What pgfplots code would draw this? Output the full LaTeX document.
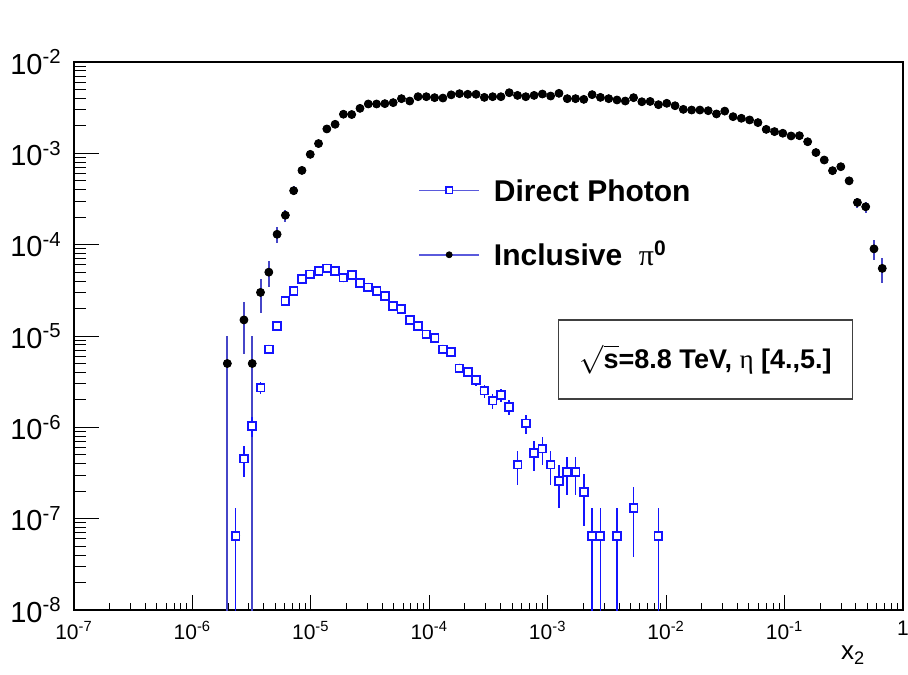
\documentclass[border=0pt]{standalone}
\usepackage{fontspec}
\setmainfont{Liberation Sans}
\newfontfamily\greekfont{Liberation Serif}
\usepackage{pgfplots}
\pgfplotsset{compat=1.18}
\usepackage{pgfplotstable}

\definecolor{errblue}{RGB}{70,70,200}
\definecolor{legblue}{RGB}{90,90,220}
\definecolor{photon}{RGB}{20,20,255}

% Inclusive pi0
\pgfplotstableread{
x y ep em
1.972e-6 5e-6 5e-6 4.999e-6
2.723e-6 1.5e-5 8.66e-6 8.66e-6
3.199e-6 5e-6 5e-6 4.999e-6
3.758e-6 3e-5 1.22e-5 1.22e-5
4.416e-6 5e-5 1.58e-5 1.58e-5
5.188e-6 1.3e-4 2.55e-5 2.55e-5
6.095e-6 2.1e-4 3.24e-5 3.24e-5
7.161e-6 3.9e-4 4.42e-5 4.42e-5
8.414e-6 6.5e-4 5.7e-5 5.7e-5
9.886e-6 9.75e-4 6.98e-5 6.98e-5
1.161e-5 1.28e-3 8e-5 8e-5
1.365e-5 1.85e-3 9.6e-5 9.6e-5
1.603e-5 2.08e-3 1.02e-4 1.02e-4
1.884e-5 2.68e-3 1.16e-4 1.16e-4
2.213e-5 2.66e-3 1.15e-4 1.15e-4
2.600e-5 3.11e-3 1.25e-4 1.25e-4
3.055e-5 3.47e-3 1.32e-4 1.32e-4
3.589e-5 3.47e-3 1.32e-4 1.32e-4
4.217e-5 3.5e-3 1.32e-4 1.32e-4
4.955e-5 3.59e-3 1.34e-4 1.34e-4
5.821e-5 3.97e-3 1.41e-4 1.41e-4
6.839e-5 3.74e-3 1.37e-4 1.37e-4
8.035e-5 4.17e-3 1.44e-4 1.44e-4
9.441e-5 4.17e-3 1.44e-4 1.44e-4
1.109e-4 4.07e-3 1.43e-4 1.43e-4
1.303e-4 4.03e-3 1.42e-4 1.42e-4
1.531e-4 4.37e-3 1.48e-4 1.48e-4
1.799e-4 4.5e-3 1.5e-4 1.5e-4
2.113e-4 4.43e-3 1.49e-4 1.49e-4
2.483e-4 4.43e-3 1.49e-4 1.49e-4
2.917e-4 4.1e-3 1.43e-4 1.43e-4
3.428e-4 4.17e-3 1.44e-4 1.44e-4
4.027e-4 4.17e-3 1.44e-4 1.44e-4
4.732e-4 4.61e-3 1.52e-4 1.52e-4
5.559e-4 4.31e-3 1.47e-4 1.47e-4
6.531e-4 4.17e-3 1.44e-4 1.44e-4
7.674e-4 4.31e-3 1.47e-4 1.47e-4
9.016e-4 4.46e-3 1.49e-4 1.49e-4
1.059e-3 4.24e-3 1.46e-4 1.46e-4
1.245e-3 4.54e-3 1.51e-4 1.51e-4
1.462e-3 3.97e-3 1.41e-4 1.41e-4
1.718e-3 3.97e-3 1.41e-4 1.41e-4
2.018e-3 3.9e-3 1.4e-4 1.4e-4
2.371e-3 4.39e-3 1.48e-4 1.48e-4
2.786e-3 4.1e-3 1.43e-4 1.43e-4
3.273e-3 3.97e-3 1.41e-4 1.41e-4
3.846e-3 3.84e-3 1.39e-4 1.39e-4
4.519e-3 3.74e-3 1.37e-4 1.37e-4
5.309e-3 4.07e-3 1.43e-4 1.43e-4
6.237e-3 3.67e-3 1.35e-4 1.35e-4
7.328e-3 3.7e-3 1.36e-4 1.36e-4
8.610e-3 3.41e-3 1.31e-4 1.31e-4
1.012e-2 3.53e-3 1.33e-4 1.33e-4
1.189e-2 3.32e-3 1.29e-4 1.29e-4
1.396e-2 3.03e-3 1.23e-4 1.23e-4
1.641e-2 2.98e-3 1.22e-4 1.22e-4
1.928e-2 2.98e-3 1.22e-4 1.22e-4
2.265e-2 2.93e-3 1.21e-4 1.21e-4
2.661e-2 2.7e-3 1.16e-4 1.16e-4
3.126e-2 2.9e-3 1.2e-4 1.2e-4
3.673e-2 2.52e-3 1.12e-4 1.12e-4
4.315e-2 2.42e-3 1.1e-4 1.1e-4
5.070e-2 2.32e-3 1.08e-4 1.08e-4
5.957e-2 2.17e-3 1.04e-4 1.04e-4
6.998e-2 1.83e-3 9.57e-5 9.57e-5
8.222e-2 1.73e-3 9.3e-5 9.3e-5
9.661e-2 1.66e-3 9.11e-5 9.11e-5
0.1135 1.55e-3 8.8e-5 8.8e-5
0.1334 1.56e-3 8.83e-5 8.83e-5
0.1567 1.34e-3 8.19e-5 8.19e-5
0.1841 1.02e-3 7.14e-5 7.14e-5
0.2163 8.45e-4 6.5e-5 6.5e-5
0.2541 6.46e-4 5.68e-5 5.68e-5
0.2985 7.14e-4 5.98e-5 5.98e-5
0.3508 5e-4 5e-5 5e-5
0.4121 2.9e-4 3.81e-5 3.81e-5
0.4842 2.6e-4 3.61e-5 3.61e-5
0.5689 9e-5 2.12e-5 2.12e-5
0.6683 5.5e-5 1.66e-5 1.66e-5
}\piontable

% Direct photon
\pgfplotstableread{
x y ep em
2.317e-6 6.5e-8 6.5e-8 6.49e-8
2.723e-6 4.55e-7 1.72e-7 1.72e-7
3.199e-6 1.04e-6 2.6e-7 2.6e-7
3.758e-6 2.73e-6 4.21e-7 4.21e-7
4.416e-6 7.15e-6 6.82e-7 6.82e-7
5.188e-6 1.29e-5 9.16e-7 9.16e-7
6.095e-6 2.41e-5 1.25e-6 1.25e-6
7.161e-6 3.13e-5 1.43e-6 1.43e-6
8.414e-6 4.21e-5 1.65e-6 1.65e-6
9.886e-6 4.73e-5 1.75e-6 1.75e-6
1.161e-5 5.15e-5 1.83e-6 1.83e-6
1.365e-5 5.5e-5 1.89e-6 1.89e-6
1.603e-5 5.15e-5 1.83e-6 1.83e-6
1.884e-5 4.35e-5 1.68e-6 1.68e-6
2.213e-5 4.66e-5 1.74e-6 1.74e-6
2.600e-5 3.78e-5 1.57e-6 1.57e-6
3.055e-5 3.41e-5 1.49e-6 1.49e-6
3.589e-5 3.13e-5 1.43e-6 1.43e-6
4.217e-5 2.74e-5 1.33e-6 1.33e-6
4.955e-5 2.13e-5 1.18e-6 1.18e-6
5.821e-5 1.98e-5 1.13e-6 1.13e-6
6.839e-5 1.5e-5 9.87e-7 9.87e-7
8.035e-5 1.29e-5 9.16e-7 9.16e-7
9.441e-5 1.04e-5 8.22e-7 8.22e-7
1.109e-4 9.44e-6 7.83e-7 7.83e-7
1.303e-4 7.15e-6 6.82e-7 6.82e-7
1.531e-4 6.68e-6 6.59e-7 6.59e-7
1.799e-4 4.43e-6 5.37e-7 5.37e-7
2.113e-4 4.06e-6 5.14e-7 5.14e-7
2.483e-4 3.3e-6 4.63e-7 4.63e-7
2.917e-4 2.52e-6 4.05e-7 4.05e-7
3.428e-4 1.96e-6 3.57e-7 3.57e-7
4.027e-4 2.26e-6 3.83e-7 3.83e-7
4.732e-4 1.68e-6 3.3e-7 3.3e-7
5.559e-4 3.9e-7 1.59e-7 1.59e-7
6.531e-4 1.105e-6 2.68e-7 2.68e-7
7.674e-4 5.2e-7 1.84e-7 1.84e-7
9.016e-4 5.85e-7 1.95e-7 1.95e-7
1.059e-3 3.9e-7 1.59e-7 1.59e-7
1.245e-3 2.6e-7 1.3e-7 1.3e-7
1.462e-3 3.25e-7 1.45e-7 1.45e-7
1.718e-3 3.25e-7 1.45e-7 1.45e-7
2.018e-3 1.95e-7 1.126e-7 1.126e-7
2.371e-3 6.5e-8 6.5e-8 6.49e-8
2.786e-3 6.5e-8 6.5e-8 6.49e-8
3.846e-3 6.5e-8 6.5e-8 6.49e-8
5.309e-3 1.3e-7 9.19e-8 9.19e-8
8.610e-3 6.5e-8 6.5e-8 6.49e-8
}\photontable

\begin{document}
\begin{tikzpicture}
\path[use as bounding box] (-37pt,-32pt) rectangle (417pt,305pt);
\begin{axis}[
  scale only axis, width=414.5pt, height=274pt,
  at={(0pt,0pt)}, anchor=south west,
  xmode=log, ymode=log,
  xmin=1e-7, xmax=1, ymin=1e-8, ymax=1e-2,
  axis line style={line width=0.6pt, black},
  tick align=inside, tick pos=left,
  xtick={1e-7,1e-6,1e-5,1e-4,1e-3,1e-2,1e-1,1},
  xticklabels={10\textsuperscript{-7},10\textsuperscript{-6},10\textsuperscript{-5},10\textsuperscript{-4},10\textsuperscript{-3},10\textsuperscript{-2},10\textsuperscript{-1},1},
  ytick={1e-8,1e-7,1e-6,1e-5,1e-4,1e-3,1e-2},
  yticklabels={10\textsuperscript{-8},10\textsuperscript{-7},10\textsuperscript{-6},10\textsuperscript{-5},10\textsuperscript{-4},10\textsuperscript{-3},10\textsuperscript{-2}},
  xtick style={line width=0.5pt, black, /pgfplots/major tick length=7.5pt, /pgfplots/minor tick length=3.75pt},
  ytick style={line width=0.5pt, black, /pgfplots/major tick length=12.5pt, /pgfplots/minor tick length=6.25pt},
  xticklabel style={font=\fontsize{10.5}{10.5}\selectfont, inner sep=0pt, yshift=-5.5pt},
  yticklabel style={font=\fontsize{14.5}{14.5}\selectfont, inner sep=0pt, xshift=-6pt},
  xlabel={x\textsubscript{2}},
  xlabel style={font=\fontsize{13}{13}\selectfont, at={(axis description cs:0.94,0)}, anchor=center, yshift=-22.5pt},
  legend style={draw=none, fill=none, at={(rel axis cs:0.415,0.786)}, anchor=north west,
    inner sep=0pt, row sep=21.5pt, column sep=7pt,
    font=\bfseries\fontsize{15}{15}\selectfont,
    nodes={inner sep=0pt, text depth=0pt, text height=10.7pt}},
  legend cell align=left,
  clip=true,
]
% pi0 error bars, then markers
\addplot[forget plot, only marks, mark=none,
  error bars/.cd, y dir=both, y explicit, error mark=none,
  error bar style={draw=errblue, line width=1pt}]
  table[x=x, y=y, y error plus=ep, y error minus=em] {\piontable};
\addplot[forget plot, only marks, mark=*, mark size=1.75pt, mark options={black, fill=black}]
  table[x=x, y=y] {\piontable};
% photon error bars, then markers
\addplot[forget plot, only marks, mark=none,
  error bars/.cd, y dir=both, y explicit, error mark=none,
  error bar style={draw=photon, line width=0.8pt}]
  table[x=x, y=y, y error plus=ep, y error minus=em] {\photontable};
\addplot[forget plot, only marks, mark=square*, mark size=1.95pt, mark options={draw=photon, line width=0.9pt, fill=white}]
  table[x=x, y=y] {\photontable};
\addlegendimage{legend image code/.code={\draw[legblue,line width=0.75pt](0pt,0pt)--(30pt,0pt);\draw[photon,line width=0.7pt,fill=white](13.4pt,-1.6pt) rectangle (16.6pt,1.6pt);}}
\addlegendentry{Direct Photon}
\addlegendimage{legend image code/.code={\draw[legblue,line width=0.75pt](0pt,0pt)--(30pt,0pt);\fill[black](15pt,0pt) circle (1.5pt);}}
\addlegendentry{Inclusive\ \ {\greekfont\mdseries π}\textsuperscript{0}}
\node[draw=black!75, line width=0.75pt, minimum width=147pt, minimum height=39.5pt, inner sep=0pt,
  font=\bfseries\fontsize{13.5}{13.5}\selectfont] at (rel axis cs:0.762,0.457)
  {\ensuremath{\sqrt{\hbox{\bfseries s}}}=8.8 TeV, {\greekfont\mdseries η} [4.,5.]};
\end{axis}
\end{tikzpicture}
\end{document}
